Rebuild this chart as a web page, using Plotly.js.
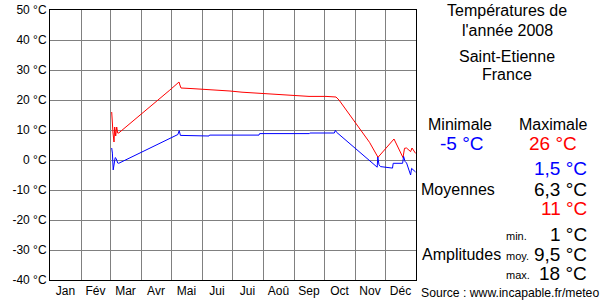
<!DOCTYPE html>
<html><head><meta charset="utf-8">
<script src="https://cdn.plot.ly/plotly-3.0.1.min.js"></script>
<style>html,body{margin:0;padding:0;background:#fff}#c{width:600px;height:300px}</style>
</head><body><div id="c"></div>
<script>
// Day of year (2008, leap year) and temperatures in °C
const maxDays = [61.7,62.4,63,64,64.7,65.7,66.7,67.7,68.7,119.8,127.9,129,129.9,131,142,159,180,192,209,226,242,259,276,286,289,319.5,328,344,353,354.5,356.5,358.5,360.6,362,363.6,365.6];
const maxVals = [16,10,9,6,11,8,11,9,9,23.3,25.7,26,25,24,23.8,23.5,23,22.6,22.2,21.9,21.6,21.2,21.2,21,20,5.9,0.9,7,0.8,3.9,4,3.3,2.8,4,3.3,2.2];
const minDays = [61.7,62.4,63.2,64.2,65.2,66.2,67.7,68.7,119.8,127.9,129.2,130.4,159,159.5,209,209.6,259.3,259.8,284.3,285.4,286.4,301,327.2,327.8,329,330.5,336.5,342.5,343.2,352.6,353.6,355.1,356.6,358.6,360.6,361.6,363.6,365.6];
const minVals = [4,2.3,-3.3,-1,0.8,0.5,-1,-1.1,7.3,8.5,9.8,8.2,8,8.3,8.3,8.8,8.8,9,9,9.9,9.3,5.2,-2.4,1,-1.6,-2.2,-2.4,-2.7,-1.1,-1.1,1.2,-0.5,-1,-2.8,-5,-2.8,-3.5,-4];
const months = ['Jan','Fév','Mar','Avr','Mai','Jui','Jui','Aoû','Sep','Oct','Nov','Déc'];
const monthStarts = [0,31,60,91,121,152,182,213,244,274,305,335,366];
const yTicks = [50,40,30,20,10,0,-10,-20,-30,-40];
const yTickText = ['50 °C','40 °C','30 °C','20 °C','10 °C','0 °C','-10 °C','-20 °C','-30 °C','-40 °C'];
const titleLines = ['Températures de',"l'année 2008",'Saint-Etienne','France'];
const statMin = '-5 °C', statMax = '26 °C';
const moyennes = ['1,5 °C','6,3 °C','11 °C'];
const amplitudes = ['1 °C','9,5 °C','18 °C'];
const ampLabels = ['min.','moy.','max.'];
const source = 'Source : www.incapable.fr/meteo';

const monthMids = months.map((m,i)=>(monthStarts[i]+monthStarts[i+1])/2);

const L=50, R=416, T=10, B=280, W=R-L, H=B-T;
const px = x => (x-L)/W, py = y => 1-(y-T)/H;
const F = 'Liberation Sans, Arial, sans-serif';
function ann(text, x, y, size, color, xanchor){
  return {text, x:px(x), y:py(y), xref:'paper', yref:'paper', showarrow:false,
    xanchor:xanchor||'center', yanchor:'middle', font:{family:F,size,color:color||'#000'}};
}
const annotations = [
  ann(titleLines[0],507,10,16), ann(titleLines[1],507,30,16),
  ann(titleLines[2],507,56,16), ann(titleLines[3],507,75,16),
  ann('Minimale',460,124,16), ann('Maximale',553,124,16),
  ann(statMin,462,143,19,'#0000ff'), ann(statMax,553,143,19,'#ff0000'),
  ann(moyennes[0],589,168,19,'#0000ff','right'),
  ann(moyennes[1],589,189,19,'#000','right'),
  ann(moyennes[2],589,208,19,'#ff0000','right'),
  ann('Moyennes',419,189,16,'#000','left'),
  ann(amplitudes[0],589,234,19,'#000','right'),
  ann(amplitudes[1],589,254,19,'#000','right'),
  ann(amplitudes[2],589,273,19,'#000','right'),
  ann(ampLabels[0],504,236,11,'#000','left'),
  ann(ampLabels[1],504,256,11,'#000','left'),
  ann(ampLabels[2],504,275,11,'#000','left'),
  ann('Amplitudes',420,254,16,'#000','left'),
  ann(source,419,293,12.2,'#000','left')
];

const data = [
  {x:maxDays, y:maxVals, type:'scatter', mode:'lines', line:{color:'#ff0000', width:1}, hoverinfo:'none'},
  {x:minDays, y:minVals, type:'scatter', mode:'lines', line:{color:'#0000ff', width:1}, hoverinfo:'none'}
];
const layout = {
  width:600, height:300, showlegend:false,
  paper_bgcolor:'#fff', plot_bgcolor:'#fff',
  margin:{l:L, r:600-R, t:T, b:300-B, pad:0},
  font:{family:F, size:12, color:'#000'},
  xaxis:{range:[0,366], tickmode:'array', tickvals:monthMids, ticktext:months,
    ticks:'', showgrid:false, zeroline:false, showline:true, linecolor:'#000', linewidth:1, mirror:true,
    tickfont:{family:F,size:12,color:'#000'}, automargin:false, fixedrange:true,
    minor:{tickmode:'array', tickvals:monthStarts, showgrid:true, gridcolor:'#808080', gridwidth:1, ticks:''}},
  yaxis:{range:[-40,50], tickmode:'array', tickvals:yTicks, ticktext:yTickText,
    ticks:'', showgrid:true, gridcolor:'#808080', gridwidth:1, zeroline:false,
    showline:true, linecolor:'#000', linewidth:1, mirror:true,
    tickfont:{family:F,size:12,color:'#000'}, automargin:false, fixedrange:true},
  annotations
};
Plotly.newPlot('c', data, layout, {staticPlot:true, displayModeBar:false});
</script></body></html>
